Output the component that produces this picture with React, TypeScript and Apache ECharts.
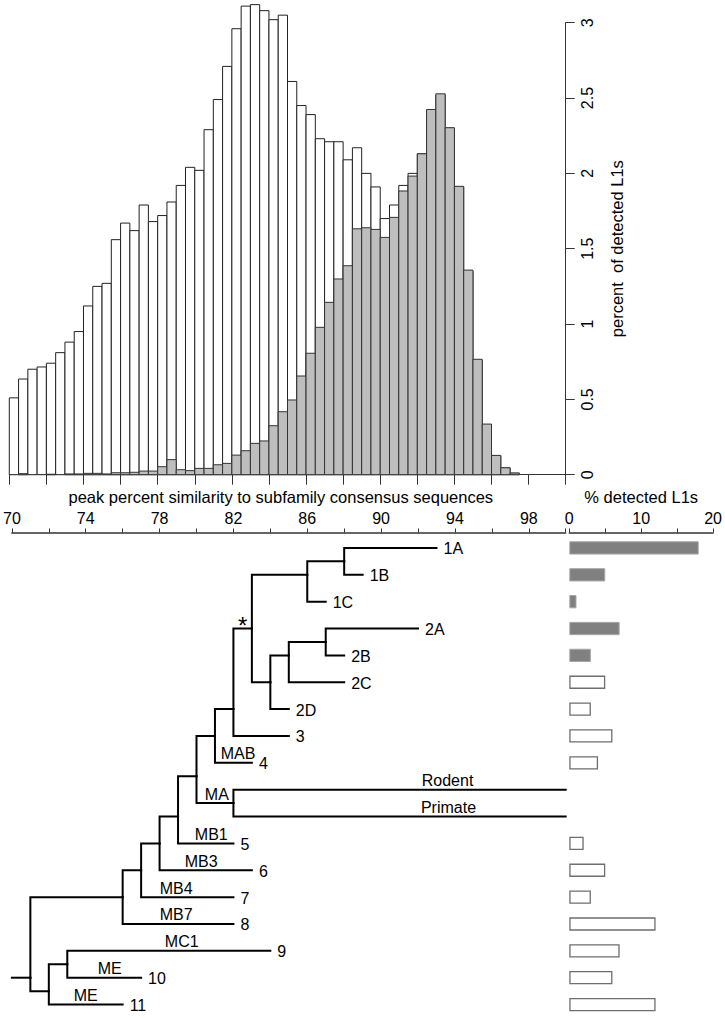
import React, { useEffect, useRef } from "react";
import * as echarts from "echarts";

// ---------- Histogram data (bins of 0.5 % similarity, starting at 70) ----------
const BIN_START = 70;
const BIN_WIDTH = 0.5;
// white bars: all detected L1s (percent per bin)
const allL1s = [
  0.51, 0.635, 0.7, 0.715, 0.74, 0.81, 0.88, 0.95, 1.12, 1.25,
  1.27, 1.56, 1.67, 1.62, 1.79, 1.68, 1.72, 1.81, 1.92, 2.04,
  2.02, 2.29, 2.49, 2.71, 2.96, 3.11, 3.12, 3.08, 3.02, 3.05,
  2.61, 2.45, 2.39, 2.23, 2.21, 2.21, 2.09, 2.17, 2.0, 1.91,
  1.7, 1.79, 1.92, 2.0, 2.13, 2.42, 2.52, 2.3, 1.91, 1.35,
  0.76, 0.33, 0.125, 0.045, 0.01,
];
// grey bars: active subset
const activeL1s = [
  0, 0.007, 0, 0, 0.003, 0, 0.005, 0.005, 0.009, 0.009,
  0.005, 0.013, 0.013, 0.016, 0.024, 0.024, 0.053, 0.1, 0.033, 0.027,
  0.042, 0.042, 0.066, 0.075, 0.13, 0.159, 0.208, 0.224, 0.325, 0.418,
  0.496, 0.655, 0.806, 0.978, 1.144, 1.299, 1.387, 1.632, 1.639, 1.628,
  1.575, 1.708, 1.883, 1.982, 2.13, 2.424, 2.528, 2.303, 1.914, 1.358,
  0.766, 0.336, 0.128, 0.046, 0.011,
];
const simTickLabels = ["70", "74", "78", "82", "86", "90", "94", "98"];
const pctTickLabels = ["0", "10", "20"];

// ---------- Tree data (x in % similarity, row = leaf order from top) ----------
type TNode = {
  id: string;
  parent: string | null;
  x: number;
  row: number;
  tip?: string;
  sub?: string;
  subX?: number;
  star?: boolean;
};
const treeNodes: TNode[] = [
  { id: "root", parent: null, x: 71, row: 16 },
  { id: "nMB7", parent: "root", x: 76, row: 13 },
  { id: "nME", parent: "root", x: 72, row: 16.5 },
  { id: "n910", parent: "nME", x: 73, row: 15.5 },
  { id: "t9", parent: "n910", x: 84, row: 15, tip: "9", sub: "MC1", subX: 79.2 },
  { id: "t10", parent: "n910", x: 77, row: 16, tip: "10", sub: "ME", subX: 75.3 },
  { id: "t11", parent: "nME", x: 76, row: 17, tip: "11", sub: "ME", subX: 74.0 },
  { id: "t8", parent: "nMB7", x: 82, row: 14, tip: "8", sub: "MB7", subX: 78.9 },
  { id: "nMB4", parent: "nMB7", x: 77, row: 12 },
  { id: "t7", parent: "nMB4", x: 82, row: 13, tip: "7", sub: "MB4", subX: 78.9 },
  { id: "nMB3", parent: "nMB4", x: 78, row: 11 },
  { id: "t6", parent: "nMB3", x: 83, row: 12, tip: "6", sub: "MB3", subX: 80.25 },
  { id: "nMB1", parent: "nMB3", x: 79, row: 10 },
  { id: "t5", parent: "nMB1", x: 82, row: 11, tip: "5", sub: "MB1", subX: 80.8 },
  { id: "nMABMA", parent: "nMB1", x: 80, row: 8.5 },
  { id: "nMA", parent: "nMABMA", x: 82, row: 9.5, sub: "MA", subX: 81.1 },
  { id: "tRodent", parent: "nMA", x: 100, row: 9, sub: "Rodent", subX: 93.6 },
  { id: "tPrimate", parent: "nMA", x: 100, row: 10, sub: "Primate", subX: 93.65 },
  { id: "nMAB", parent: "nMABMA", x: 81, row: 7 },
  { id: "t4", parent: "nMAB", x: 83, row: 8, tip: "4", sub: "MAB", subX: 82.25 },
  { id: "n123", parent: "nMAB", x: 82, row: 6 },
  { id: "t3", parent: "n123", x: 85, row: 7, tip: "3" },
  { id: "n12", parent: "n123", x: 83, row: 3, star: true },
  { id: "n1", parent: "n12", x: 86, row: 1 },
  { id: "n1AB", parent: "n1", x: 88, row: 0.5 },
  { id: "t1A", parent: "n1AB", x: 93, row: 0, tip: "1A" },
  { id: "t1B", parent: "n1AB", x: 89, row: 1, tip: "1B" },
  { id: "t1C", parent: "n1", x: 87, row: 2, tip: "1C" },
  { id: "n2", parent: "n12", x: 84, row: 5 },
  { id: "n2ABC", parent: "n2", x: 85, row: 4 },
  { id: "n2AB", parent: "n2ABC", x: 87, row: 3.5 },
  { id: "t2A", parent: "n2AB", x: 92, row: 3, tip: "2A" },
  { id: "t2B", parent: "n2AB", x: 88, row: 4, tip: "2B" },
  { id: "t2C", parent: "n2ABC", x: 88, row: 5, tip: "2C" },
  { id: "t2D", parent: "n2", x: 85, row: 6, tip: "2D" },
];
const ROOT_STUB_X = 70;

// ---------- Bar chart data ----------
const rowNames = ["1A", "1B", "1C", "2A", "2B", "2C", "2D", "3", "4", "Rodent", "Primate", "5", "6", "7", "8", "9", "10", "11"];
const detectedPct: (number | null)[] = [18, 5, 1, 7, 3, 5, 3, 6, 4, null, null, 2, 5, 3, 12, 7, 6, 12];
const isActive = [true, true, true, true, true, false, false, false, false, false, false, false, false, false, false, false, false, false];

const FONT = "'Liberation Sans', Arial, sans-serif";

export default function App() {
  const ref = useRef<HTMLDivElement>(null);
  useEffect(() => {
    if (!ref.current) return;
    const chart = echarts.init(ref.current, undefined, { renderer: "svg" });
    const byId: Record<string, TNode> = {};
    treeNodes.forEach((n) => (byId[n.id] = n));

    const histRender = (fill: string, stroke: string) => (params: any, api: any) => {
      const x0 = api.value(0);
      const v = api.value(1);
      if (!v) return null;
      const p0 = api.coord([x0, 0]);
      const p1 = api.coord([x0 + BIN_WIDTH, v]);
      return {
        type: "rect",
        shape: { x: p0[0], y: p1[1], width: p1[0] - p0[0], height: p0[1] - p1[1] },
        style: { fill, stroke, lineWidth: 1 },
      };
    };

    const axisColor = "#333";
    const option: any = {
      animation: false,
      textStyle: { fontFamily: FONT, color: "#000" },
      grid: [
        { left: 9.3, top: 22.7, width: 556.4, height: 452 },
        { left: 9.3, top: 534.5, width: 556.4, height: 486 },
        { left: 569.3, top: 534.5, width: 144, height: 486 },
      ],
      xAxis: [
        {
          gridIndex: 0, type: "value", min: 70, max: 100, interval: 2, position: "bottom",
          axisLine: { onZero: false, lineStyle: { color: axisColor, width: 1 } },
          axisTick: { length: 10, lineStyle: { color: axisColor } },
          axisLabel: { show: false },
          splitLine: { show: false },
        },
        {
          gridIndex: 1, type: "value", min: 70, max: 100, interval: 2, position: "top", offset: 2,
          axisLine: { show: true, onZero: false, lineStyle: { color: axisColor, width: 1.5 } },
          axisTick: { length: 4, lineStyle: { color: axisColor } },
          axisLabel: {
            fontSize: 16, color: "#000", margin: 6, fontFamily: FONT,
            formatter: (v: number) => (simTickLabels.includes(String(v)) ? String(v) : ""),
          },
          splitLine: { show: false },
          name: "peak percent similarity to subfamily consensus sequences",
          nameLocation: "middle",
          nameGap: 27,
          nameTextStyle: { fontSize: 16.5, color: "#000", fontFamily: FONT, padding: [0, 16, 0, 0] },
        },
        {
          gridIndex: 2, type: "value", min: 0, max: 20, interval: 5, position: "top", offset: 2,
          axisLine: { show: true, onZero: false, lineStyle: { color: axisColor, width: 1.5 } },
          axisTick: { show: true, length: 4, lineStyle: { color: axisColor } },
          axisLabel: {
            fontSize: 16, color: "#000", margin: 6, fontFamily: FONT,
            formatter: (v: number) => (pctTickLabels.includes(String(v)) ? String(v) : ""),
          },
          splitLine: { show: false },
          name: "% detected L1s",
          nameLocation: "middle",
          nameGap: 27,
          nameTextStyle: { fontSize: 16.5, color: "#000", fontFamily: FONT },
        },
      ],
      yAxis: [
        {
          gridIndex: 0, type: "value", min: 0, max: 3, interval: 0.5, position: "right",
          axisLine: { show: true, onZero: false, lineStyle: { color: axisColor, width: 1 } },
          axisTick: { show: true, length: 9, lineStyle: { color: axisColor } },
          axisLabel: { rotate: 90, fontSize: 16, color: "#000", margin: 14, fontFamily: FONT },
          splitLine: { show: false },
          name: "percent  of detected L1s",
          nameLocation: "middle",
          nameRotate: 90,
          nameGap: 43,
          nameTextStyle: { fontSize: 16.5, color: "#000", fontFamily: FONT },
        },
        { gridIndex: 1, type: "value", min: -0.5, max: 17.5, inverse: true, show: false },
        { gridIndex: 2, type: "category", data: rowNames, inverse: true, show: false },
      ],
      series: [
        {
          type: "custom", xAxisIndex: 0, yAxisIndex: 0, clip: false,
          data: allL1s.map((v, i) => [BIN_START + i * BIN_WIDTH, v]),
          renderItem: histRender("#ffffff", "#222"),
        },
        {
          type: "custom", xAxisIndex: 0, yAxisIndex: 0, clip: false,
          data: activeL1s.map((v, i) => [BIN_START + i * BIN_WIDTH, v]),
          renderItem: histRender("#bebebe", "#333"),
        },
        {
          type: "custom", xAxisIndex: 1, yAxisIndex: 1, clip: false,
          data: treeNodes.map((n) => [n.x, n.row]),
          renderItem: (params: any, api: any) => {
            const n = treeNodes[params.dataIndex];
            const p = n.parent ? byId[n.parent] : null;
            const px = p ? p.x : ROOT_STUB_X;
            const py = p ? p.row : n.row;
            const a = api.coord([px, py]);
            const b = api.coord([px, n.row]);
            const c = api.coord([n.x, n.row]);
            const children: any[] = [
              {
                type: "polyline",
                shape: { points: [a, b, c] },
                style: { stroke: "#000", lineWidth: 2, fill: null, lineJoin: "miter", lineCap: "square" },
              },
            ];
            if (n.tip) {
              children.push({
                type: "text", x: c[0] + 7, y: c[1] + 1,
                style: { text: n.tip, fill: "#000", fontSize: 16, fontFamily: FONT, align: "left", verticalAlign: "middle" },
              });
            }
            if (n.sub && n.subX != null) {
              const s = api.coord([n.subX, n.row]);
              children.push({
                type: "text", x: s[0], y: s[1] - 9,
                style: { text: n.sub, fill: "#000", fontSize: 16, fontFamily: FONT, align: "center", verticalAlign: "middle" },
              });
            }
            if (n.star) {
              const m = api.coord([(px + n.x) / 2, n.row]);
              children.push({
                type: "text", x: m[0], y: m[1] - 3,
                style: { text: "*", fill: "#000", fontSize: 24, fontFamily: FONT, align: "center", verticalAlign: "middle" },
              });
            }
            return { type: "group", children };
          },
        },
        {
          type: "bar", xAxisIndex: 2, yAxisIndex: 2, barWidth: 13.3,
          data: detectedPct.map((v, i) =>
            v == null
              ? null
              : {
                  value: v,
                  itemStyle: isActive[i]
                    ? { color: "#808080", borderColor: "#a8a8a8", borderWidth: 1 }
                    : { color: "#ffffff", borderColor: "#6e6e6e", borderWidth: 1.3 },
                }
          ),
        },
      ],
    };
    chart.setOption(option);
    return () => chart.dispose();
  }, []);
  return <div ref={ref} style={{ position: "absolute", left: 0, top: 0, width: 725, height: 1018 }} />;
}
